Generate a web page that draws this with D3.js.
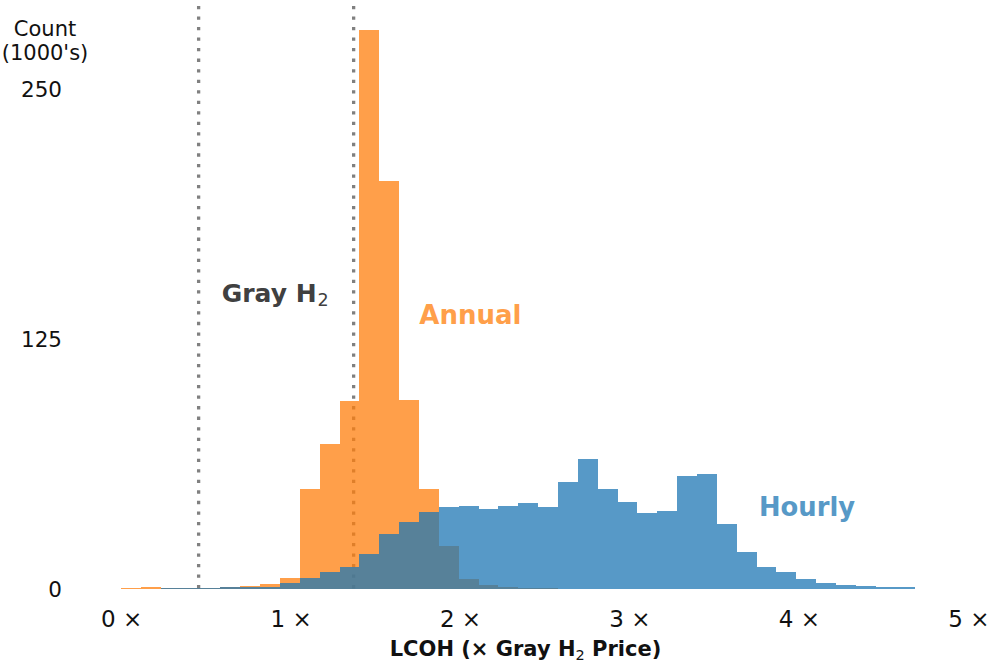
<!DOCTYPE html>
<html>
<head>
<meta charset="utf-8">
<script src="https://cdn.jsdelivr.net/npm/d3@7"></script>
<style>
  body { margin: 0; background: #fff; }
  text { font-family: "DejaVu Sans", sans-serif; }
</style>
</head>
<body>
<svg id="chart" width="992" height="667"></svg>
<script>
// Histogram bins (LCOH as a multiple of the gray H2 price)
const binStart = 0;
const binWidth = 0.1172;

// Counts per bin, thousands of cases
const annualCounts = [
  0.3, 0.8, 0.4, 0.4, 0.5, 0.8, 1.7, 2.5, 5.5, 49.8,
  72.5, 93.8, 279.5, 204.2, 94.5, 49.8, 21.7, 4.8, 2.0, 1.0,
  0.5, 0.3, 0.2, 0, 0, 0, 0, 0, 0, 0,
  0, 0, 0, 0, 0, 0, 0, 0, 0, 0
];
const hourlyCounts = [
  0, 0, 0.3, 0.3, 0.5, 0.8, 0.8, 1.2, 2.8, 5.5,
  8.3, 11.0, 17.5, 27.7, 33.7, 38.3, 41.2, 41.7, 39.8, 41.3,
  42.8, 40.8, 53.3, 64.8, 49.8, 43.5, 37.8, 39.0, 56.3, 57.5,
  32.3, 18.7, 11.2, 8.5, 4.8, 3.0, 2.0, 1.3, 1.0, 1.0
];

// Range of the gray hydrogen price
const grayH2Range = [0.457, 1.372];

const xTicks = [0, 1, 2, 3, 4, 5];
const yTicks = [0, 125, 250];

const svg = d3.select("#chart");

const x = d3.scaleLinear().domain([0, 5]).range([121.2, 968.3]);
const y = d3.scaleLinear().domain([0, 294.5]).range([589, 0]);

// Dotted markers for the gray H2 price range, under the bars
svg.append("g")
  .selectAll("line")
  .data(grayH2Range)
  .join("line")
  .attr("x1", d => x(d)).attr("x2", d => x(d))
  .attr("y1", y(0) - 0.6).attr("y2", 0)
  .attr("stroke", "#808080")
  .attr("stroke-width", 3.3)
  .attr("stroke-dasharray", "3.3,7.23");

function drawHist(counts, color, cls) {
  svg.append("g")
    .attr("class", cls)
    .selectAll("rect")
    .data(counts.map((c, i) => ({ x0: binStart + i * binWidth, x1: binStart + (i + 1) * binWidth, c })))
    .join("rect")
    .attr("x", d => x(d.x0))
    .attr("width", d => x(d.x1) - x(d.x0))
    .attr("y", d => y(d.c))
    .attr("height", d => y(0) - y(d.c))
    .attr("fill", color)
    .attr("fill-opacity", 0.75)
    .attr("shape-rendering", "crispEdges");
}

drawHist(annualCounts, "#ff7f0e", "annual");
drawHist(hourlyCounts, "#1f77b4", "hourly");

// Axes
const yAxis = svg.append("g")
  .attr("transform", "translate(62,0)")
  .call(d3.axisLeft(y).tickValues(yTicks).tickSize(0).tickPadding(0));
yAxis.select(".domain").remove();
yAxis.selectAll("text")
  .attr("font-size", 21.5)
  .attr("font-family", "DejaVu Sans")
  .attr("fill", "#111")
  .attr("dy", "0.36em");

const xAxis = svg.append("g")
  .attr("transform", `translate(0,${y(0)})`)
  .call(d3.axisBottom(x).tickValues(xTicks).tickSize(0).tickPadding(0)
    .tickFormat(d => d + " \u00d7"));
xAxis.select(".domain").remove();
xAxis.selectAll("text")
  .attr("font-size", 23)
  .attr("font-family", "DejaVu Sans")
  .attr("fill", "#111")
  .attr("y", 38.3)
  .attr("dy", 0);

// Y axis title
const yTitle = svg.append("text")
  .attr("text-anchor", "middle")
  .attr("font-size", 21)
  .attr("fill", "#111");
yTitle.append("tspan").attr("x", 45).attr("y", 36).text("Count");
yTitle.append("tspan").attr("x", 45).attr("y", 59.5).text("(1000's)");

// X axis title
const xTitle = svg.append("text")
  .attr("x", 525.5).attr("y", 656)
  .attr("text-anchor", "middle")
  .attr("font-size", 21)
  .attr("font-weight", "bold")
  .attr("fill", "#111");
xTitle.append("tspan").text("LCOH (\u00d7 Gray H");
xTitle.append("tspan").attr("font-size", 14.5).attr("font-weight", "normal").attr("dy", 4).text("2");
xTitle.append("tspan").attr("dy", -4).text(" Price)");

// Annotations
const gray = svg.append("text")
  .attr("x", 221.7).attr("y", 302.3)
  .attr("font-size", 25)
  .attr("font-weight", "bold")
  .attr("fill", "#404040");
gray.append("tspan").text("Gray H");
gray.append("tspan").attr("font-size", 17.5).attr("font-weight", "normal").attr("dx", 1).attr("dy", 4).text("2");

svg.append("text")
  .attr("x", 419.3).attr("y", 324.3)
  .attr("font-size", 26)
  .attr("font-weight", "bold")
  .attr("fill", "#ff9f4a")
  .text("Annual");

svg.append("text")
  .attr("x", 759).attr("y", 515.7)
  .attr("font-size", 25.8)
  .attr("font-weight", "bold")
  .attr("fill", "#5799c7")
  .text("Hourly");
</script>
</body>
</html>
